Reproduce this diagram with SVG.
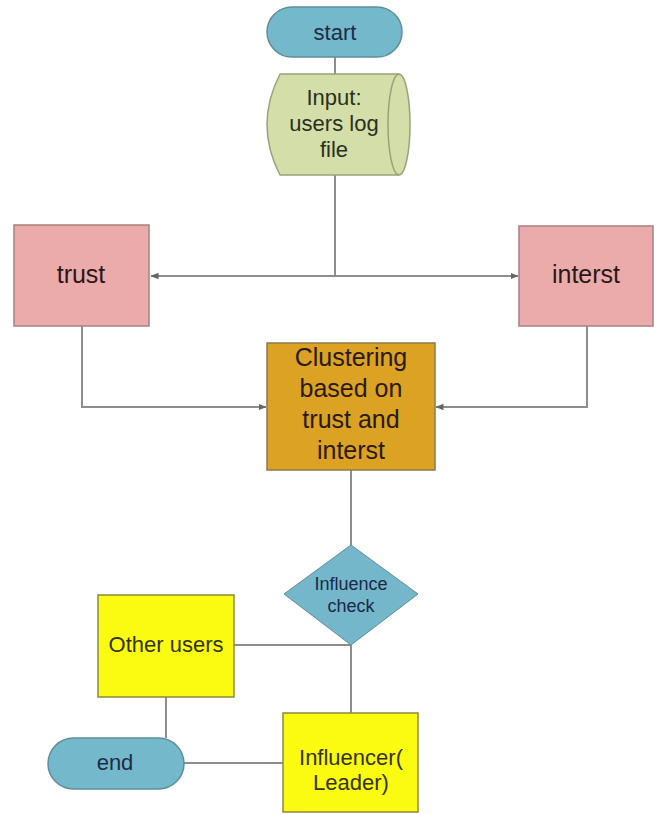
<svg xmlns="http://www.w3.org/2000/svg" width="654" height="814" viewBox="0 0 654 814">
<defs>
<marker id="arr" viewBox="0 0 8 8" refX="7.5" refY="4" markerWidth="8" markerHeight="8" markerUnits="userSpaceOnUse" orient="auto">
<path d="M0,0.8 L8,4 L0,7.2 Z" fill="#666"/>
</marker>
</defs>
<style>
text{font-family:"Liberation Sans",Arial,sans-serif;text-anchor:middle}
.conn{fill:none;stroke:#8e8e8e;stroke-width:2}
.term{fill:#74b8cc;stroke:#5f8e9c;stroke-width:1.5}
.termt{fill:#1d2d44;font-size:22px}
.pink{fill:#ebabab;stroke:#a88080;stroke-width:1.5}
.pinkt{fill:#2a1818;font-size:25px}
.yel{fill:#fbfb12;stroke:#8a8a40;stroke-width:1.5}
.yelt{fill:#33330a;font-size:22px}
.inp{fill:#2a3020;font-size:22px}
</style>
<rect width="654" height="814" fill="#ffffff"/>
<g id="connectors">
<line class="conn" x1="335" y1="57" x2="335" y2="74"/>
<line class="conn" x1="335" y1="175" x2="335" y2="276"/>
<line class="conn" x1="335" y1="276" x2="151" y2="276" marker-end="url(#arr)"/>
<line class="conn" x1="335" y1="276" x2="518" y2="276" marker-end="url(#arr)"/>
<polyline class="conn" points="82,326 82,407 266,407" marker-end="url(#arr)"/>
<polyline class="conn" points="587,326 587,407 436,407" marker-end="url(#arr)"/>
<line class="conn" x1="351" y1="470" x2="351" y2="545"/>
<line class="conn" x1="234" y1="645" x2="351" y2="645"/>
<line class="conn" x1="351" y1="645" x2="351" y2="713"/>
<line class="conn" x1="166" y1="697" x2="166" y2="738"/>
<line class="conn" x1="184" y1="763" x2="283" y2="763"/>
</g>
<g id="start">
<rect class="term" x="267" y="7" width="135" height="50" rx="25"/>
<text class="termt" x="335" y="40">start</text>
</g>
<g id="input">
<path d="M280,74 L399,74 A11,50.5 0 0 1 399,175 L280,175 Q254,124.5 280,74 Z" fill="#d3dea9" stroke="#98a37a" stroke-width="1.5"/>
<path d="M399,74 A11,50.5 0 0 0 399,175" fill="none" stroke="#98a37a" stroke-width="1.5"/>
<text class="inp" x="334" y="105">Input:</text>
<text class="inp" x="334" y="131">users log</text>
<text class="inp" x="334" y="157">file</text>
</g>
<g id="trust">
<rect class="pink" x="14" y="225" width="135" height="101"/>
<text class="pinkt" x="81" y="283">trust</text>
</g>
<g id="interst">
<rect class="pink" x="519" y="226" width="134" height="100"/>
<text class="pinkt" x="586" y="283">interst</text>
</g>
<g id="clustering">
<rect x="267" y="343" width="168" height="127" fill="#dba224" stroke="#8c7a4e" stroke-width="1.5"/>
<text x="351" y="366" fill="#2a1a08" font-size="25">Clustering</text>
<text x="351" y="397" fill="#2a1a08" font-size="25">based on</text>
<text x="351" y="428" fill="#2a1a08" font-size="25">trust and</text>
<text x="351" y="459" fill="#2a1a08" font-size="25">interst</text>
</g>
<g id="influence-check">
<polygon points="351,545 418,594 351,645 284,594" fill="#74b6ca" stroke="#5f8e9c" stroke-width="1"/>
<text x="351" y="590" fill="#1a2a44" font-size="18">Influence</text>
<text x="351" y="612" fill="#1a2a44" font-size="18">check</text>
</g>
<g id="other-users">
<rect class="yel" x="98" y="595" width="136" height="102"/>
<text class="yelt" x="166" y="652">Other users</text>
</g>
<g id="end">
<rect class="term" x="48" y="738" width="136" height="51" rx="25.5"/>
<text class="termt" x="115" y="770">end</text>
</g>
<g id="influencer">
<rect class="yel" x="283" y="713" width="135" height="99"/>
<text class="yelt" x="351" y="765">Influencer(</text>
<text class="yelt" x="351" y="790">Leader)</text>
</g>
</svg>
